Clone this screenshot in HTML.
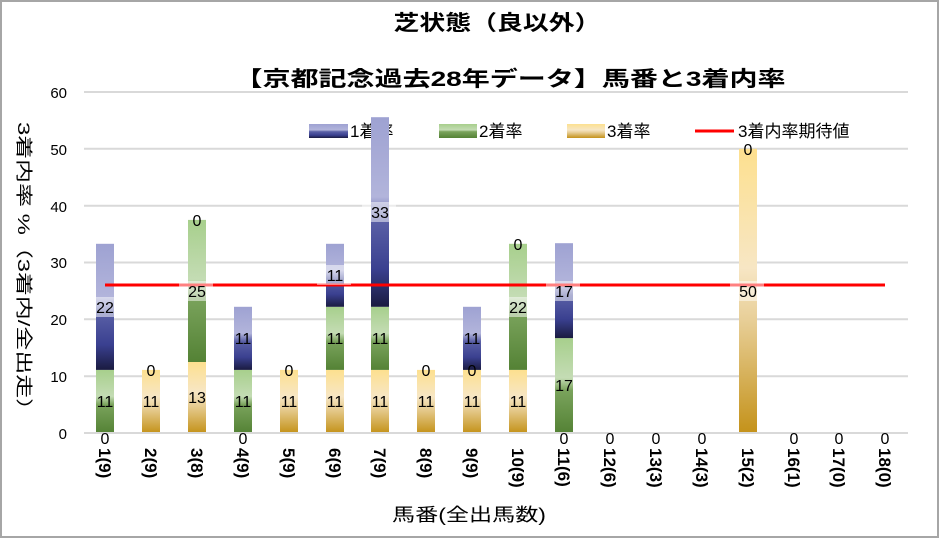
<!DOCTYPE html>
<html><head><meta charset="utf-8"><style>
html,body{margin:0;padding:0;background:#fff;}
svg{display:block;font-family:"Liberation Sans","Noto Sans CJK JP",sans-serif;}
</style></head><body>
<svg width="940" height="539" viewBox="0 0 940 539" xmlns="http://www.w3.org/2000/svg">
<defs>
<linearGradient id="gb" x1="0" y1="0" x2="0" y2="1">
<stop offset="0" stop-color="#9ea2d2"/><stop offset="0.42" stop-color="#b2b4db"/><stop offset="0.55" stop-color="#5a60a6"/><stop offset="0.8" stop-color="#3a4090"/><stop offset="1" stop-color="#1a1b40"/></linearGradient>
<linearGradient id="gg" x1="0" y1="0" x2="0" y2="1">
<stop offset="0" stop-color="#a7cf8c"/><stop offset="0.42" stop-color="#c4dcb4"/><stop offset="0.55" stop-color="#7aa35c"/><stop offset="1" stop-color="#548235"/></linearGradient>
<linearGradient id="go" x1="0" y1="0" x2="0" y2="1">
<stop offset="0" stop-color="#fde08f"/><stop offset="0.42" stop-color="#f7e6c4"/><stop offset="0.6" stop-color="#e8cf98"/><stop offset="1" stop-color="#c4921a"/></linearGradient>
</defs>
<rect x="1" y="1" width="937" height="536" fill="#fff" stroke="#a6a6a6" stroke-width="2"/>
<text x="497" y="30" font-size="21" font-weight="bold" text-anchor="middle" textLength="207" lengthAdjust="spacingAndGlyphs">芝状態（良以外）</text>
<text x="510" y="86" font-size="21" font-weight="bold" text-anchor="middle" textLength="551" lengthAdjust="spacingAndGlyphs">【京都記念過去28年データ】馬番と3着内率</text>
<g stroke="#d9d9d9" stroke-width="2">
<line x1="84" y1="92" x2="908" y2="92"/><line x1="84" y1="148.8" x2="908" y2="148.8"/><line x1="84" y1="205.7" x2="908" y2="205.7"/><line x1="84" y1="262.5" x2="908" y2="262.5"/><line x1="84" y1="319.3" x2="908" y2="319.3"/><line x1="84" y1="376.2" x2="908" y2="376.2"/><line x1="84" y1="433" x2="908" y2="433"/>
</g>
<g font-size="15" text-anchor="end" fill="#000">
<text x="67" y="98">60</text><text x="67" y="155">50</text><text x="67" y="212">40</text><text x="67" y="268">30</text><text x="67" y="325">20</text><text x="67" y="382">10</text><text x="67" y="439">0</text>
</g>
<text transform="translate(18,122) rotate(90)" font-size="17" textLength="300" lengthAdjust="spacingAndGlyphs">3着内率 %（3着内/全出走）</text>
<!-- legend -->
<rect x="309" y="124" width="39" height="14" fill="url(#gb)"/><text x="350" y="137" font-size="17">1着率</text>
<rect x="439" y="124" width="38" height="14" fill="url(#gg)"/><text x="479" y="137" font-size="17">2着率</text>
<rect x="567" y="124" width="38" height="14" fill="url(#go)"/><text x="607" y="137" font-size="17">3着率</text>
<line x1="695" y1="131" x2="734" y2="131" stroke="#ff0000" stroke-width="3"/><text x="738" y="137" font-size="17">3着内率期待値</text>
<!-- bars -->
<g>
<rect x="96" y="369.9" width="18" height="63.1" fill="url(#gg)"/><rect x="96" y="243.8" width="18" height="126.1" fill="url(#gb)"/>
<rect x="142" y="369.9" width="18" height="63.1" fill="url(#go)"/>
<rect x="188" y="362" width="18" height="71" fill="url(#go)"/><rect x="188" y="219.9" width="18" height="142.1" fill="url(#gg)"/>
<rect x="234" y="369.9" width="18" height="63.1" fill="url(#gg)"/><rect x="234" y="306.8" width="18" height="63.1" fill="url(#gb)"/>
<rect x="280" y="369.9" width="18" height="63.1" fill="url(#go)"/>
<rect x="326" y="369.9" width="18" height="63.1" fill="url(#go)"/><rect x="326" y="306.8" width="18" height="63.1" fill="url(#gg)"/><rect x="326" y="243.8" width="18" height="63" fill="url(#gb)"/>
<rect x="371" y="369.9" width="18" height="63.1" fill="url(#go)"/><rect x="371" y="306.8" width="18" height="63.1" fill="url(#gg)"/><rect x="371" y="117.2" width="18" height="189.6" fill="url(#gb)"/>
<rect x="417" y="369.9" width="18" height="63.1" fill="url(#go)"/>
<rect x="463" y="369.9" width="18" height="63.1" fill="url(#go)"/><rect x="463" y="306.8" width="18" height="63.1" fill="url(#gb)"/>
<rect x="509" y="369.9" width="18" height="63.1" fill="url(#go)"/><rect x="509" y="243.8" width="18" height="126.1" fill="url(#gg)"/>
<rect x="555" y="338.1" width="18" height="94.9" fill="url(#gg)"/><rect x="555" y="243.2" width="18" height="94.9" fill="url(#gb)"/>
<rect x="739" y="148.8" width="18" height="284.2" fill="url(#go)"/>
</g>
<line x1="84" y1="433" x2="908" y2="433" stroke="#d9d9d9" stroke-width="2"/>
<line x1="105" y1="285" x2="885" y2="285" stroke="#ff0000" stroke-width="3"/>
<!-- labels -->
<g font-size="16" text-anchor="middle" fill="#000">
<g fill="#fff" fill-opacity="0.5" stroke="none">
<rect x="88" y="297" width="34" height="20"/><rect x="179" y="281" width="34" height="20"/><rect x="317" y="265" width="34" height="20"/><rect x="362" y="202" width="34" height="20"/><rect x="500" y="297" width="34" height="20"/><rect x="546" y="281" width="34" height="20"/><rect x="730" y="281" width="34" height="20"/>
</g>
<text x="105" y="444">0</text><text x="105" y="407">11</text><text x="105" y="313">22</text>
<text x="151" y="407">11</text><text x="151" y="376">0</text>
<text x="197" y="403">13</text><text x="197" y="297">25</text><text x="197" y="226">0</text>
<text x="243" y="444">0</text><text x="243" y="407">11</text><text x="243" y="344">11</text>
<text x="289" y="407">11</text><text x="289" y="376">0</text>
<text x="335" y="407">11</text><text x="335" y="344">11</text><text x="335" y="281">11</text>
<text x="380" y="407">11</text><text x="380" y="344">11</text><text x="380" y="218">33</text>
<text x="426" y="407">11</text><text x="426" y="376">0</text>
<text x="472" y="407">11</text><text x="472" y="376">0</text><text x="472" y="344">11</text>
<text x="518" y="407">11</text><text x="518" y="313">22</text><text x="518" y="250">0</text>
<text x="564" y="444">0</text><text x="564" y="391">17</text><text x="564" y="297">17</text>
<text x="610" y="444">0</text><text x="656" y="444">0</text><text x="702" y="444">0</text>
<text x="748" y="297">50</text><text x="748" y="155">0</text>
<text x="794" y="444">0</text><text x="839" y="444">0</text><text x="885" y="444">0</text>
</g>
<!-- x labels -->
<g font-size="17" font-weight="bold" fill="#000">
<text transform="translate(99,448) rotate(90)">1(9)</text>
<text transform="translate(145,448) rotate(90)">2(9)</text>
<text transform="translate(191,448) rotate(90)">3(8)</text>
<text transform="translate(237,448) rotate(90)">4(9)</text>
<text transform="translate(283,448) rotate(90)">5(9)</text>
<text transform="translate(329,448) rotate(90)">6(9)</text>
<text transform="translate(374,448) rotate(90)">7(9)</text>
<text transform="translate(420,448) rotate(90)">8(9)</text>
<text transform="translate(466,448) rotate(90)">9(9)</text>
<text transform="translate(512,448) rotate(90)">10(9)</text>
<text transform="translate(558,448) rotate(90)">11(6)</text>
<text transform="translate(604,448) rotate(90)">12(6)</text>
<text transform="translate(650,448) rotate(90)">13(3)</text>
<text transform="translate(696,448) rotate(90)">14(3)</text>
<text transform="translate(742,448) rotate(90)">15(2)</text>
<text transform="translate(788,448) rotate(90)">16(1)</text>
<text transform="translate(833,448) rotate(90)">17(0)</text>
<text transform="translate(879,448) rotate(90)">18(0)</text>
</g>
<text x="392" y="521" font-size="18" textLength="154" lengthAdjust="spacingAndGlyphs">馬番(全出馬数)</text>
</svg>
</body></html>
